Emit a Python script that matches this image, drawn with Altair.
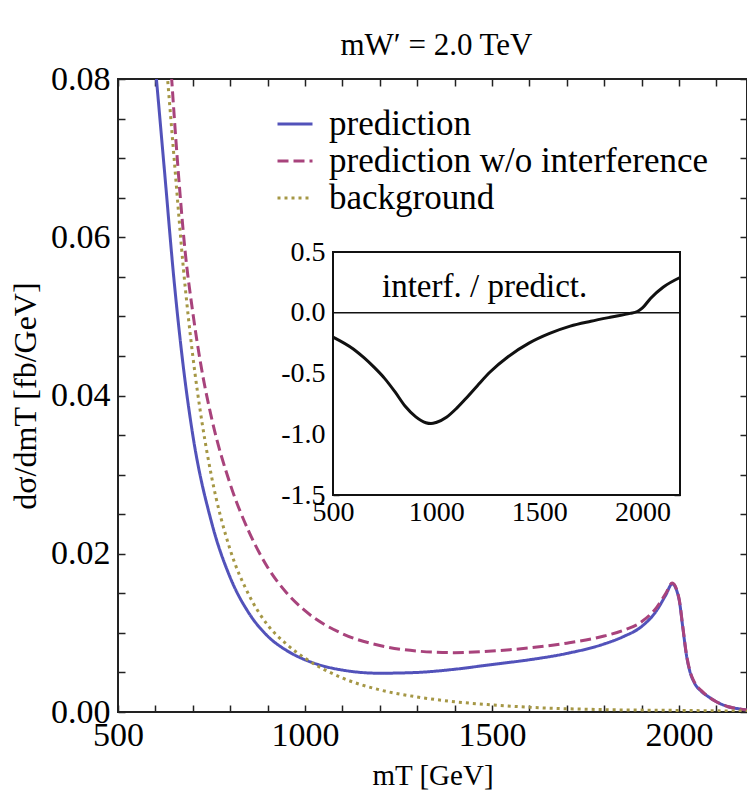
import altair as alt
import pandas as pd

# ---------------- data ----------------
SERIES = ["prediction", "prediction w/o interference", "background"]
COLORS = ["#5252ba", "#a8437c", "#a59745"]
DASHES = [[1, 0], [11, 5], [3, 4]]

m_pred = [600, 625, 650, 675, 700, 750, 800, 850, 900, 950, 1000, 1050, 1100, 1150,
          1200, 1300, 1400, 1500, 1600, 1700, 1800, 1850, 1900, 1940, 1965, 1982,
          2000, 2010, 2020, 2030, 2040, 2060, 2080, 2100, 2130, 2160, 2190]
v_pred = [0.0815, 0.068, 0.0545, 0.0435, 0.0350, 0.0240, 0.0170, 0.0125, 0.0096,
          0.0078, 0.0066, 0.0058, 0.0053, 0.0050, 0.0049, 0.0050, 0.0054, 0.0060,
          0.0066, 0.0074, 0.0086, 0.0095, 0.0108, 0.0128, 0.0148, 0.0162, 0.0143,
          0.0108, 0.0072, 0.0050, 0.0038, 0.0026, 0.0019, 0.0013, 0.0007, 0.0004, 0.0002]

m_noint = [640, 660, 680, 700, 720, 750, 800, 850, 900, 950, 1000, 1100, 1200, 1300,
           1400, 1500, 1600, 1700, 1800, 1850, 1900, 1940, 1965, 1982, 2000, 2010,
           2020, 2030, 2040, 2060, 2080, 2100, 2130, 2160, 2190]
v_noint = [0.0825, 0.069, 0.058, 0.0505, 0.0443, 0.0372, 0.0288, 0.0228, 0.0183,
           0.0151, 0.0128, 0.0099, 0.0084, 0.0077, 0.0075, 0.0077, 0.0081, 0.0087,
           0.0096, 0.0103, 0.0114, 0.0132, 0.0150, 0.0163, 0.0144, 0.0109, 0.0073,
           0.0051, 0.0039, 0.0027, 0.0019, 0.0013, 0.0007, 0.0004, 0.0002]

m_bkg = [630, 650, 675, 700, 725, 750, 800, 850, 900, 950, 1000, 1100, 1200, 1300,
         1400, 1500, 1600, 1800, 2000, 2190]
v_bkg = [0.0815, 0.0700, 0.0560, 0.0450, 0.0365, 0.0298, 0.0205, 0.0148, 0.0110,
         0.0086, 0.0068, 0.0043, 0.0028, 0.0019, 0.0013, 0.0009, 0.0006, 0.0003,
         0.0002, 0.0001]

# inset: interference / prediction
m_ratio = [500, 600, 650, 700, 750, 800, 850, 900, 950, 975, 1000, 1050, 1100, 1150,
           1200, 1260, 1350, 1450, 1550, 1650, 1750, 1850, 1940, 1975, 2000, 2040,
           2100, 2182]
r_ratio = [-0.20, -0.30, -0.37, -0.45, -0.54, -0.65, -0.77, -0.855, -0.905, -0.912,
           -0.903, -0.86, -0.785, -0.695, -0.60, -0.49, -0.36, -0.25, -0.17, -0.11,
           -0.07, -0.035, -0.005, 0.01, 0.04, 0.12, 0.21, 0.29]

X_DOMAIN = [500, 2182]
Y_DOMAIN = [0.0, 0.08]
INSET_Y_DOMAIN = [-1.5, 0.5]
x_ticks = list(range(500, 2200, 100))
y_ticks = [round(0.005 * i, 3) for i in range(17)]
inset_y_ticks = [round(i / 10, 1) for i in range(-15, 6)]
inset_label = ["interf. / predict."]
inset_label_pos = [1235, 0.21]
zero_level = [0.0]

TITLE = "mW′ = 2.0 TeV"
X_TITLE = "mT [GeV]"
Y_TITLE = "dσ/dmT [fb/GeV]"

# ---------------- layout / style ----------------
W, H = 629, 633
TICK = 7
ITICK = 6
FONT = "Liberation Serif"
INSET_XR = [215, 562]
INSET_YR = [416, 173]

rows = []
for name, ms, vs in [(SERIES[0], m_pred, v_pred), (SERIES[1], m_noint, v_noint),
                     (SERIES[2], m_bkg, v_bkg)]:
    for i, (m, v) in enumerate(zip(ms, vs)):
        rows.append({"series": name, "m": m, "v": v, "ord": i})
main_df = pd.DataFrame(rows)
ratio_df = pd.DataFrame({"m": m_ratio, "r": r_ratio})
frame_df = pd.DataFrame({"x0": [X_DOMAIN[0]], "x1": [X_DOMAIN[1]],
                         "y0": [INSET_Y_DOMAIN[0]], "y1": [INSET_Y_DOMAIN[1]],
                         "z": zero_level})
label_df = pd.DataFrame({"x": [inset_label_pos[0]], "y": [inset_label_pos[1]],
                         "t": inset_label})

x_main = alt.Scale(domain=X_DOMAIN, nice=False, zero=False)
y_main = alt.Scale(domain=Y_DOMAIN, nice=False, zero=False)
x_in = alt.Scale(domain=X_DOMAIN, range=INSET_XR, nice=False, zero=False)
y_in = alt.Scale(domain=INSET_Y_DOMAIN, range=INSET_YR, nice=False, zero=False)

x_lab = "datum.value % 500 == 0 ? format(datum.value, 'd') : ''"
y_lab = "abs(datum.value*50 - round(datum.value*50)) < 1e-6 ? format(datum.value, '.2f') : ''"
yi_lab = ("abs(datum.value*2 - round(datum.value*2)) < 1e-6 ? "
          "replace(format(datum.value, '.1f'), '\u2212', '-') : ''")

legend = alt.Legend(orient="none", legendX=158, legendY=26, title=None,
                    symbolType="stroke", symbolSize=1225, symbolStrokeWidth=3,
                    labelFontSize=35, labelFont=FONT, labelOffset=15, labelLimit=0,
                    rowPadding=0, padding=0, labelColor="black")

lines = alt.Chart(main_df).mark_line(strokeWidth=3, clip=True, interpolate="monotone").encode(
    x=alt.X("m:Q", scale=x_main,
            axis=alt.Axis(orient="bottom", values=x_ticks, labelExpr=x_lab, offset=-TICK,
                          tickSize=TICK, domain=False, grid=False, title=X_TITLE,
                          labelFontSize=34, labelPadding=6, labelFlush=False,
                          labelOverlap=False, titleFontSize=29, titlePadding=9)),
    y=alt.Y("v:Q", scale=y_main,
            axis=alt.Axis(orient="left", values=y_ticks, labelExpr=y_lab, offset=-TICK,
                          tickSize=TICK, domain=False, grid=False, title=Y_TITLE,
                          labelFontSize=34, labelPadding=8, labelFlush=False,
                          labelOverlap=False, titleFontSize=32, titlePadding=8)),
    color=alt.Color("series:N", scale=alt.Scale(domain=SERIES, range=COLORS), legend=legend),
    strokeDash=alt.StrokeDash("series:N", scale=alt.Scale(domain=SERIES, range=DASHES),
                              legend=legend),
    order="ord:Q",
)

frame_ticks = alt.Chart(main_df).mark_point(opacity=0, clip=True).encode(
    x=alt.X("m:Q", scale=x_main,
            axis=alt.Axis(orient="top", values=x_ticks, labels=False, offset=-TICK,
                          tickSize=TICK, domain=False, grid=False, title=None)),
    y=alt.Y("v:Q", scale=y_main,
            axis=alt.Axis(orient="right", values=y_ticks, labels=False, offset=-TICK,
                          tickSize=TICK, domain=False, grid=False, title=None)),
)

main_layer = alt.layer(lines, frame_ticks)

inset_rect = alt.Chart(frame_df).mark_rect(fill="white", stroke="#111", strokeWidth=2).encode(
    x=alt.X("x0:Q", scale=x_in,
            axis=alt.Axis(orient="bottom", values=x_ticks, labelExpr=x_lab,
                          offset=(INSET_YR[0] - H) - ITICK, tickSize=ITICK, domain=False,
                          grid=False, title=None, labelFontSize=28, labelPadding=3,
                          labelFlush=False, labelOverlap=False)),
    x2="x1:Q",
    y=alt.Y("y0:Q", scale=y_in,
            axis=alt.Axis(orient="left", values=inset_y_ticks, labelExpr=yi_lab,
                          offset=-(INSET_XR[0] + ITICK), tickSize=ITICK, domain=False,
                          grid=False, title=None, labelFontSize=28, labelPadding=8,
                          labelFlush=False, labelOverlap=False)),
    y2="y1:Q",
)

inset_zero = alt.Chart(frame_df).mark_rule(color="#111", strokeWidth=1.5).encode(
    x=alt.X("x0:Q", scale=x_in,
            axis=alt.Axis(orient="top", values=x_ticks, labels=False,
                          offset=-(INSET_YR[1] + ITICK), tickSize=ITICK, domain=False,
                          grid=False, title=None)),
    x2="x1:Q",
    y=alt.Y("z:Q", scale=y_in,
            axis=alt.Axis(orient="right", values=inset_y_ticks, labels=False,
                          offset=(INSET_XR[1] - ITICK) - W, tickSize=ITICK, domain=False,
                          grid=False, title=None)),
)

inset_curve = alt.Chart(ratio_df).mark_line(color="#111", strokeWidth=3, clip=True,
                                            interpolate="monotone").encode(
    x=alt.X("m:Q", scale=x_in, axis=None),
    y=alt.Y("r:Q", scale=y_in, axis=None),
)

inset_text = alt.Chart(label_df).mark_text(font=FONT, fontSize=33, color="black",
                                           align="center", baseline="middle").encode(
    x=alt.X("x:Q", scale=x_in, axis=None),
    y=alt.Y("y:Q", scale=y_in, axis=None),
    text="t:N",
)

inset_layer = alt.layer(inset_rect, inset_zero, inset_curve, inset_text)

chart = alt.layer(main_layer, inset_layer).resolve_scale(
    x="independent", y="independent"
).properties(
    width=W, height=H,
    title=alt.TitleParams(TITLE, font=FONT, fontSize=31, fontWeight="normal",
                          color="black", anchor="middle", offset=0, dx=4),
    autosize=alt.AutoSizeParams(type="none"),
    padding={"left": 118, "top": 79, "right": 0, "bottom": 89},
).configure_view(
    stroke="#222", strokeWidth=2
).configure_axis(
    labelFont=FONT, titleFont=FONT, labelColor="black", titleColor="black",
    tickColor="#222", tickWidth=1.5, titleFontWeight="normal"
)

chart.save("out.html", embed_options={"renderer": "svg", "actions": False})
